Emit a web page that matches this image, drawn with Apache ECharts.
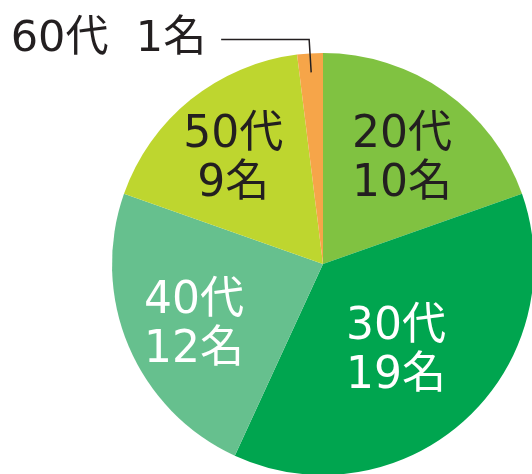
<!DOCTYPE html>
<html><head><meta charset="utf-8">
<script src="https://cdn.jsdelivr.net/npm/echarts@6/dist/echarts.min.js"></script>
<style>html,body{margin:0;padding:0;background:#fff}#c{width:532px;height:474px}</style>
</head><body><div id="c"></div>
<script>
const categories = ['20代', '30代', '40代', '50代', '60代'];
const counts = [10, 19, 12, 9, 1];
const unit = '名';

const colors = ['#80c241', '#00a54f', '#66c08e', '#bed62f', '#f6a549'];
const labelColors = ['#231f20', '#ffffff', '#ffffff', '#231f20', '#231f20'];
const labelRadiusFactor = [1.26, 1.00, 1.29, 1.32, 1];
const outsideIndex = 4;
const CX = 323, CY = 264, R = 211;
const FONT = "'DejaVu Sans', 'Noto Sans CJK JP', sans-serif";

const sliceData = categories.map((c, i) => ({
  name: c,
  value: counts[i],
  itemStyle: { color: colors[i] },
  label: { show: i !== outsideIndex, color: labelColors[i] }
}));

// invisible helper pie: only carries the outside label whose leader line starts inside the slice
const leaderData = categories.map((c, i) => ({
  name: c,
  value: counts[i],
  itemStyle: { color: 'rgba(0,0,0,0)' },
  label: { show: i === outsideIndex, color: labelColors[i] },
  labelLine: { show: i === outsideIndex }
}));

const chart = echarts.init(document.getElementById('c'), null, { renderer: 'canvas' });
chart.setOption({
  backgroundColor: '#ffffff',
  animation: false,
  series: [{
    type: 'pie',
    z: 2,
    center: [CX, CY],
    radius: [0, R],
    startAngle: 90,
    clockwise: true,
    avoidLabelOverlap: false,
    itemStyle: { borderWidth: 0 },
    label: {
      position: 'inside',
      fontFamily: FONT,
      fontSize: 44,
      lineHeight: 49,
      formatter: p => p.name + '\n' + p.value + unit,
      overflow: 'none'
    },
    labelLine: { show: false },
    labelLayout: function (p) {
      const i = p.dataIndex;
      const r = p.labelRect;
      const lx = r.x + r.width / 2, ly = r.y + r.height / 2;
      const f = labelRadiusFactor[i] - 1;
      return { dx: (lx - CX) * f, dy: (ly - CY) * f + 8 };
    },
    data: sliceData
  }, {
    type: 'pie',
    z: 5,
    silent: true,
    center: [CX, CY],
    radius: [0, R - 19],
    startAngle: 90,
    clockwise: true,
    avoidLabelOverlap: false,
    itemStyle: { borderWidth: 0 },
    label: {
      position: 'outside',
      fontFamily: FONT,
      fontSize: 43,
      formatter: p => p.name + '  ' + p.value + unit,
      distanceToLabelLine: 15,
      overflow: 'none'
    },
    labelLine: {
      length: 33, length2: 88, smooth: false,
      lineStyle: { color: '#231f20', width: 1.5 }
    },
    data: leaderData
  }]
});
</script>
</body></html>
